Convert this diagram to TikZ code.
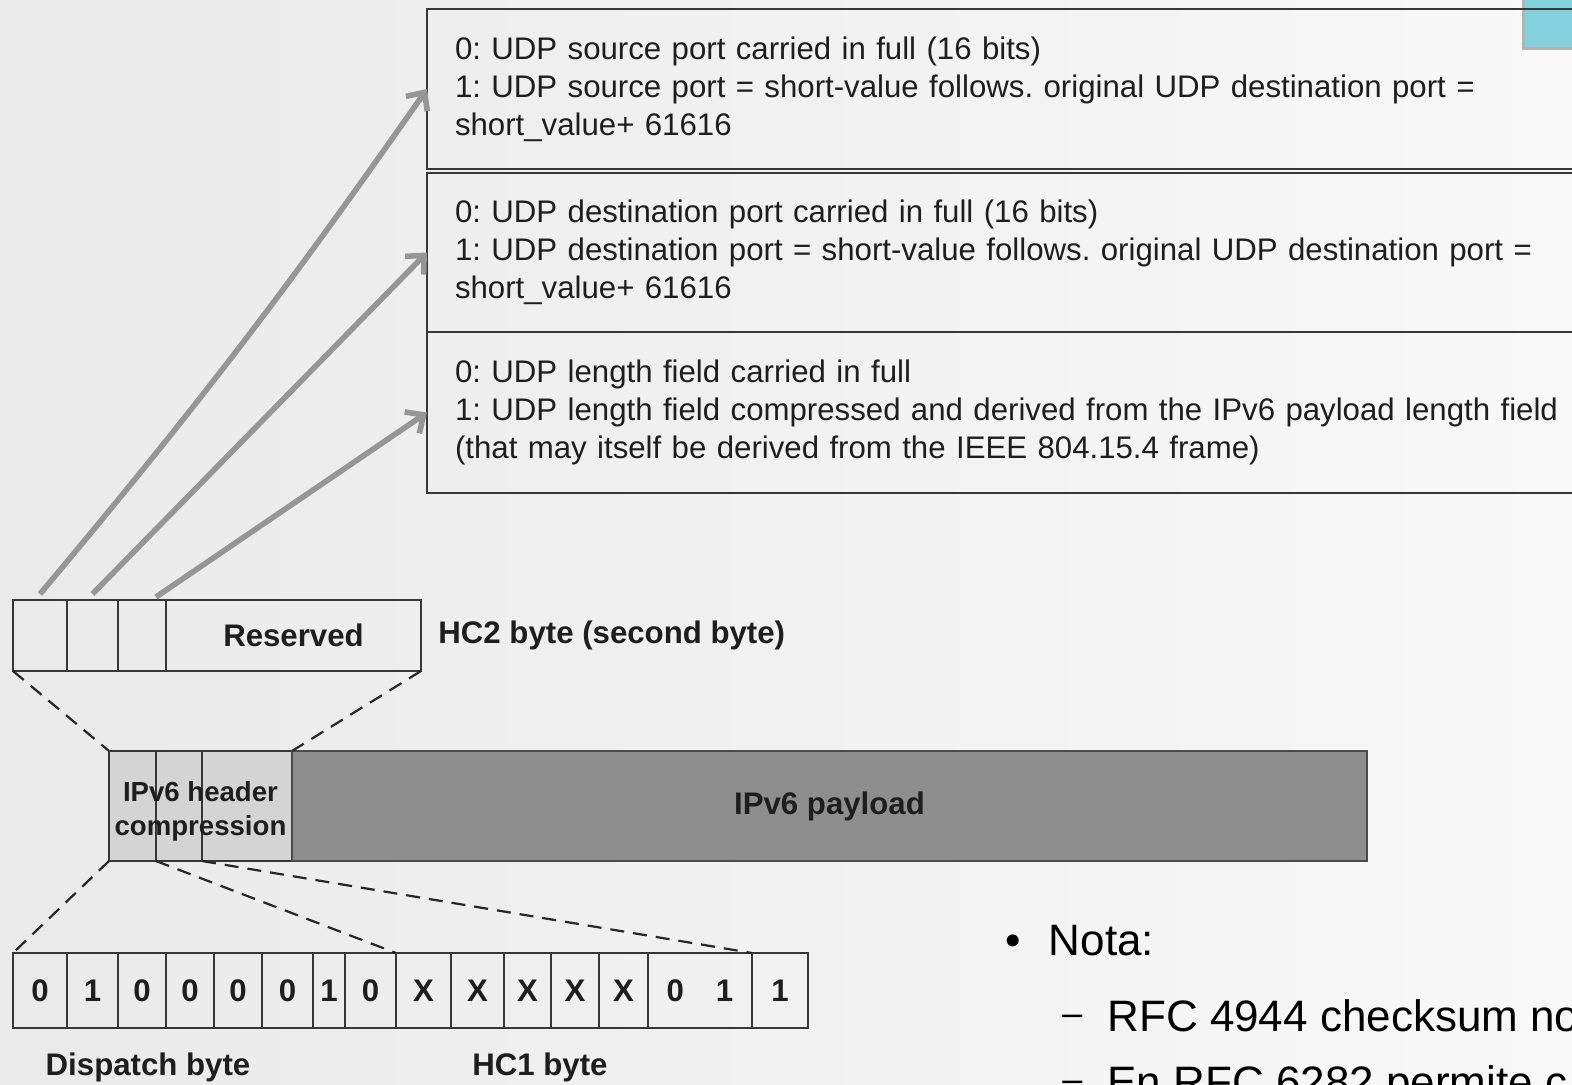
\documentclass[tikz,border=0pt]{standalone}
\usepackage{fontspec}
\setmainfont{Liberation Sans}
\usetikzlibrary{arrows.meta,positioning,calc}
\frenchspacing
\definecolor{cbg}{RGB}{234,234,234}
\definecolor{cbgr}{RGB}{248,248,248}
\definecolor{cline}{RGB}{55,55,55}
\definecolor{ctext}{RGB}{30,30,30}
\definecolor{carrow}{RGB}{150,150,150}
\definecolor{chdr}{RGB}{212,212,212}
\definecolor{cpay}{RGB}{143,142,142}
\definecolor{ctab}{RGB}{132,209,222}
\newcommand{\txt}{\fontsize{15.6}{19}\selectfont}
\newcommand{\bld}{\fontsize{15.6}{18}\selectfont\bfseries}
\newcommand{\hdr}{\fontsize{13.8}{17}\selectfont\bfseries}
\newcommand{\notefont}{\fontsize{22}{26}\selectfont}
\newcommand{\subdash}{\raisebox{3pt}{\fontsize{18}{18}\selectfont –}\hspace{12.5pt}}

\begin{document}
\begin{tikzpicture}[x=0.5pt,y=-0.5pt,
    field/.style={draw=cline,line width=0.8pt,outer sep=0pt,inner xsep=14pt,
      text width=572pt,align=left,font=\txt,text=ctext,anchor=north west},
    cell/.style={draw=cline,line width=0.8pt,outer sep=0pt,inner sep=0pt,
      font=\bld,text=ctext},
    lbl/.style={font=\bld,text=ctext,inner sep=0pt},
    zoomline/.style={draw=black!85,line width=1.1pt,dash pattern=on 7pt off 4.5pt},
    ptr/.style={draw=carrow,line width=2.8pt,-{Straight Barb[length=7pt,width=13pt]}}]

    % background
    \shade[left color=cbg,right color=cbgr] (0,0) rectangle (1572,1085);
    \useasboundingbox (0,0) rectangle (1572,1085);
    \fill[black!30] (1522,0) rectangle (1572,50);
    \fill[ctab] (1525,0) rectangle (1572,47);

    % UDP fields
    \node[field,minimum height=80pt] (srcport) at (427,9)
      {0: UDP source port carried in full (16 bits)\\
       1: UDP source port = short-value follows. original UDP destination port =\\
       short\_value+ 61616};
    \node[field,minimum height=79.5pt,below=2pt of srcport] (dstport)
      {0: UDP destination port carried in full (16 bits)\\
       1: UDP destination port = short-value follows. original UDP destination port =\\
       short\_value+ 61616};
    \node[field,minimum height=80.5pt,below=0pt of dstport] (lenfield)
      {0: UDP length field carried in full\\
       1: UDP length field compressed and derived from the IPv6 payload length field\\
       (that may itself be derived from the IEEE 804.15.4 frame)};

    % HC2 byte
    \node[cell,minimum width=27pt,minimum height=35.5pt,anchor=north west] (hc2a) at (13,600) {};
    \node[cell,minimum width=25.5pt,minimum height=35.5pt,right=0pt of hc2a] (hc2b) {};
    \node[cell,minimum width=24pt,minimum height=35.5pt,right=0pt of hc2b] (hc2c) {};
    \node[cell,minimum width=127.5pt,minimum height=35.5pt,right=0pt of hc2c] (hc2r) {Reserved};
    \node[lbl,right=8.5pt of hc2r] (hc2lbl) {HC2 byte (second byte)};

    \draw[ptr] ([yshift=3pt]hc2a.north) to[bend right=2.5] (srcport.west);
    \draw[ptr] ([yshift=3pt]hc2b.north) -- (dstport.west);
    \draw[ptr] ([shift={(7pt,1.5pt)}]hc2c.north) -- (lenfield.west);

    % IPv6 frame
    \node[cell,fill=chdr,minimum width=23.5pt,minimum height=55pt,anchor=north west] (hca) at (109,751) {};
    \node[cell,fill=chdr,minimum width=23pt,minimum height=55pt,right=0pt of hca] (hcb) {};
    \node[cell,fill=chdr,minimum width=45pt,minimum height=55pt,right=0pt of hcb] (hcc) {};
    \node[cell,fill=cpay,draw=black!70,minimum width=537.5pt,minimum height=55pt,right=0pt of hcc] (payload) {\raisebox{-2pt}{IPv6 payload}};
    \node[lbl,font=\hdr,align=center,yshift=-2.5pt] (hclbl) at ($(hca.west)!0.5!(hcc.east)$) {IPv6 header\\compression};

    % dispatch + HC1 bits
    \node[cell,minimum width=27pt,minimum height=37.5pt,anchor=north west] (bit1) at (13,953) {0};
    \foreach \w/\v [count=\i from 2, evaluate=\i as \j using int(\i-1)] in
      {51/1,48/0,48/0,48/0,51/0,32/1,51/0,55/X,53/X,47/X,48/X,49/X,104/{0\hspace{16pt}1},56/1}
      \node[cell,minimum width=\w*0.5pt,minimum height=37.5pt,right=0pt of bit\j] (bit\i) {\v};
    \node[lbl] (dispatch) at (148,1067) {Dispatch byte};
    \node[lbl] (hc1lbl) at (540,1067) {HC1 byte};

    \draw[zoomline] (hc2a.south west) -- (hca.north west);
    \draw[zoomline] (hc2r.south east) -- (hcc.north east);
    \draw[zoomline] (hca.south west) -- (bit1.north west);
    \draw[zoomline] (hca.south east) -- (bit8.north east);
    \draw[zoomline] (hcb.south east) -- (bit14.north east);

    % note
    \node[font=\notefont,inner sep=0pt,anchor=base west] (nota) at (1005,955) {•\hspace{14pt}Nota:};
    \node[font=\notefont,inner sep=0pt,anchor=base west] (rfca) at (1062,1031)
      {\subdash RFC 4944 checksum no};
    \node[font=\notefont,inner sep=0pt,anchor=base west] (rfcb) at (1062,1097)
      {\subdash En RFC 6282 permite c};
\end{tikzpicture}
\end{document}
